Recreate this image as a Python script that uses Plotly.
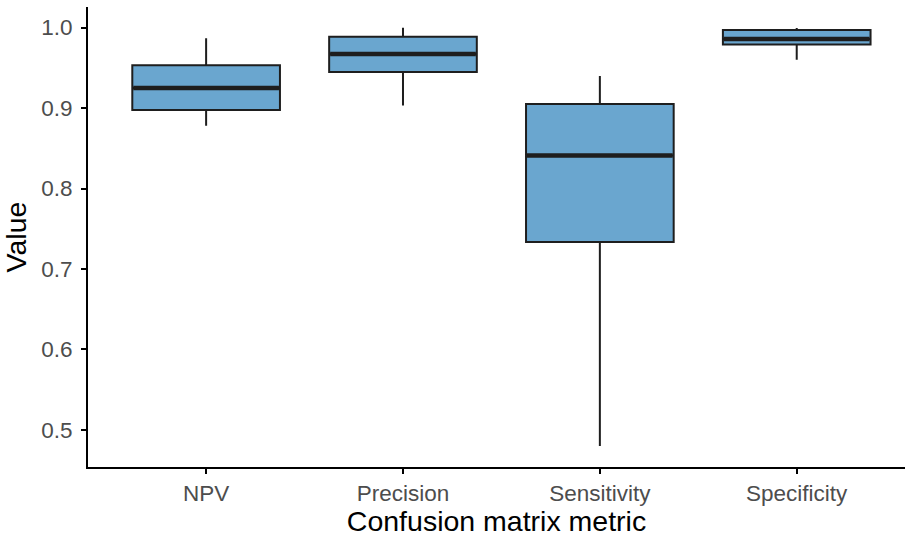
import plotly.graph_objects as go

# summary statistics
metrics = ["NPV", "Precision", "Sensitivity", "Specificity"]
lower_whisker = [0.878, 0.903, 0.480, 0.960]
q1 = [0.8975, 0.9447, 0.7335, 0.979]
median = [0.925, 0.967, 0.841, 0.9857]
q3 = [0.953, 0.9886, 0.905, 0.997]
upper_whisker = [0.9866, 0.9998, 0.9398, 0.9995]

y_ticks = [0.5, 0.6, 0.7, 0.8, 0.9, 1.0]
y_tick_labels = ["0.5", "0.6", "0.7", "0.8", "0.9", "1.0"]

fill = "#6aa6cf"
ink = "#1e1e1e"

fig = go.Figure()

# the boxes themselves
fig.add_trace(
    go.Box(
        x=metrics,
        q1=q1,
        median=median,
        q3=q3,
        lowerfence=lower_whisker,
        upperfence=upper_whisker,
        fillcolor=fill,
        line=dict(color=ink, width=2),
        whiskerwidth=0,
        width=0.75,
        boxpoints=False,
        showlegend=False,
        hoverinfo="skip",
    )
)

# ggplot draws the median thicker than the outline, so overlay a flat box
fig.add_trace(
    go.Box(
        x=metrics,
        q1=median,
        median=median,
        q3=median,
        lowerfence=median,
        upperfence=median,
        fillcolor="rgba(0,0,0,0)",
        line=dict(color=ink, width=4.5),
        whiskerwidth=0,
        width=0.74,
        boxpoints=False,
        showlegend=False,
        hoverinfo="skip",
    )
)

axis_font = dict(family="Liberation Sans, Arial, sans-serif", size=22.5, color="#4d4d4d")
title_font = dict(family="Liberation Sans, Arial, sans-serif", size=28.5, color="black")

fig.update_layout(
    width=909,
    height=537,
    margin=dict(l=88, r=4, t=7, b=70),
    paper_bgcolor="white",
    plot_bgcolor="white",
    boxmode="overlay",
    xaxis=dict(
        title=dict(text="Confusion matrix metric", font=title_font, standoff=4),
        automargin=False,
        range=[-0.6, 3.55],
        showline=True,
        linecolor="black",
        linewidth=2,
        ticks="outside",
        ticklen=5,
        tickwidth=2,
        tickcolor="black",
        tickfont=axis_font,
        showgrid=False,
        zeroline=False,
    ),
    yaxis=dict(
        title=dict(text="Value", font=title_font, standoff=8),
        automargin=False,
        range=[0.454, 1.0255],
        tickvals=y_ticks,
        ticktext=y_tick_labels,
        ticklabelstandoff=4,
        showline=True,
        linecolor="black",
        linewidth=2,
        ticks="outside",
        ticklen=5,
        tickwidth=2,
        tickcolor="black",
        tickfont=axis_font,
        showgrid=False,
        zeroline=False,
    ),
)

# drop the browser's default page margin so the figure sits at the top-left corner
fig.write_html(
    "out.html",
    config={"displayModeBar": False},
    post_script="document.body.style.margin = '0';",
)
